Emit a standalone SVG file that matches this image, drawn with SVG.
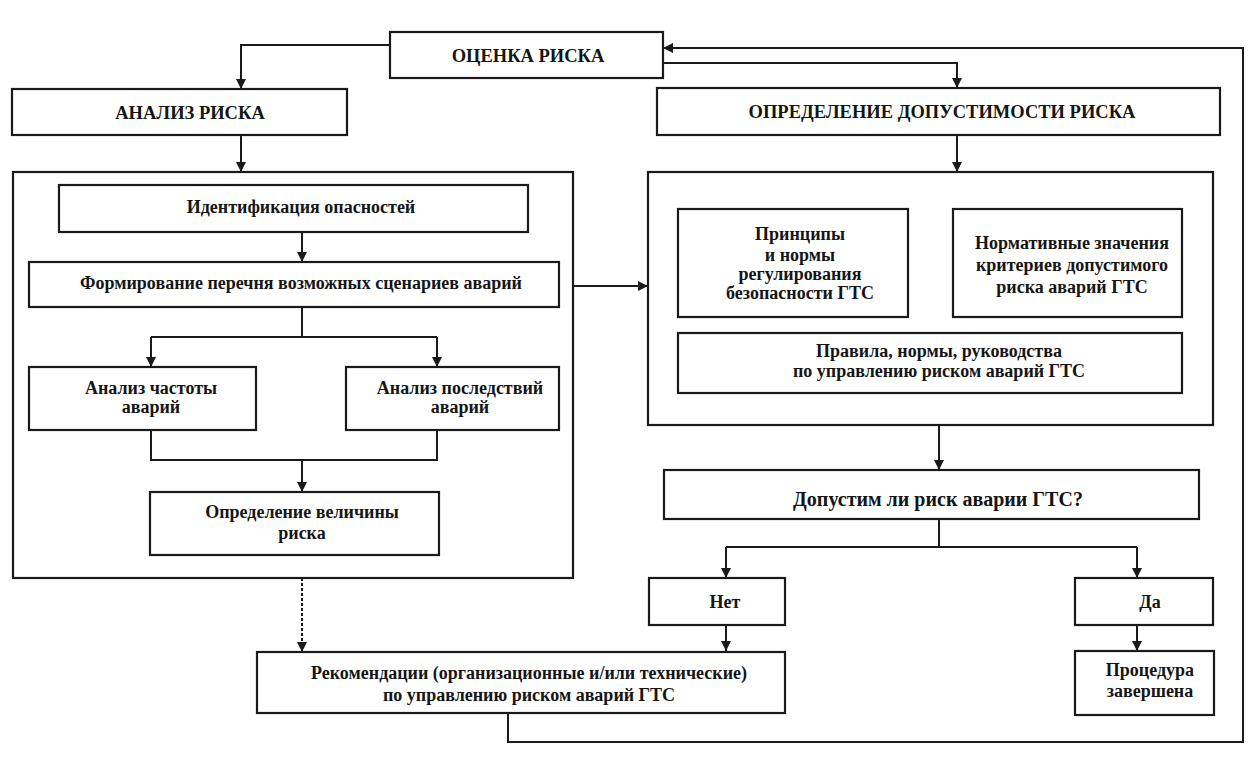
<svg xmlns="http://www.w3.org/2000/svg" width="1252" height="760" viewBox="0 0 1252 760">
<style>
.box{fill:#fff;stroke:#1a1a1a;stroke-width:2.2}
.blk{fill:none;stroke:#1a1a1a;stroke-width:2.2}
.t{font-family:"Liberation Serif","Times New Roman",serif;font-size:18px;fill:#151515;text-anchor:middle;font-weight:bold}
.h{font-family:"Liberation Serif","Times New Roman",serif;font-size:18.5px;fill:#151515;text-anchor:middle;font-weight:bold}
.c{fill:none;stroke:#1a1a1a;stroke-width:2}
.d{fill:none;stroke:#1a1a1a;stroke-width:2;stroke-dasharray:3 2}
</style>
<defs>
<marker id="ar" viewBox="0 0 10 10" refX="10" refY="5" markerWidth="5" markerHeight="5" orient="auto" markerUnits="strokeWidth">
<path d="M0,0 L10,5 L0,10 z" fill="#1a1a1a"/>
</marker>
</defs>
<rect width="1252" height="760" fill="#fff"/>

<g id="analiz-block"><rect class="blk" x="13" y="172" width="560" height="406"/></g>
<g id="dopustimost-block"><rect class="blk" x="648" y="172" width="565" height="253"/></g>

<g id="connectors">
<path class="c" d="M390,45 H241 V89" marker-end="url(#ar)"/>
<path class="c" d="M663,63 H957 V88" marker-end="url(#ar)"/>
<path class="c" d="M241,135 V172" marker-end="url(#ar)"/>
<path class="c" d="M957,135 V172" marker-end="url(#ar)"/>
<path class="c" d="M302,232 V262" marker-end="url(#ar)"/>
<path class="c" d="M302,307 V337 M151,337 H437"/>
<path class="c" d="M151,337 V367" marker-end="url(#ar)"/>
<path class="c" d="M437,337 V367" marker-end="url(#ar)"/>
<path class="c" d="M151,430 V460 H437 V430"/>
<path class="c" d="M302,460 V492" marker-end="url(#ar)"/>
<path class="c" d="M573,286 H648" marker-end="url(#ar)"/>
<path class="c" d="M939,425 V470" marker-end="url(#ar)"/>
<path class="c" d="M939,519 V547 M726,547 H1137"/>
<path class="c" d="M726,547 V578" marker-end="url(#ar)"/>
<path class="c" d="M1137,547 V578" marker-end="url(#ar)"/>
<path class="c" d="M726,625 V651" marker-end="url(#ar)"/>
<path class="c" d="M1137,625 V651" marker-end="url(#ar)"/>
<path class="d" d="M302,578 V652" marker-end="url(#ar)"/>
<path class="c" d="M508,713 V742 H1243 V48 H663" marker-end="url(#ar)"/>
</g>

<g id="ocenka"><rect class="box" x="390" y="32" width="273" height="46"/><text class="h" x="528" y="62">ОЦЕНКА РИСКА</text></g>
<g id="analiz"><rect class="box" x="12" y="89" width="335" height="46"/><text class="h" x="190" y="119">АНАЛИЗ РИСКА</text></g>
<g id="opredelenie"><rect class="box" x="657" y="88" width="563" height="47"/><text class="h" x="942" y="118">ОПРЕДЕЛЕНИЕ ДОПУСТИМОСТИ РИСКА</text></g>

<g id="identifikacia"><rect class="box" x="59" y="185" width="469" height="47"/><text class="t" x="301" y="213">Идентификация опасностей</text></g>
<g id="formirovanie"><rect class="box" x="29" y="262" width="530" height="45"/><text class="t" x="301" y="289">Формирование перечня возможных сценариев аварий</text></g>
<g id="chastota"><rect class="box" x="29" y="367" width="227" height="63"/><text class="t" x="151" y="394">Анализ частоты</text><text class="t" x="151" y="413">аварий</text></g>
<g id="posledstvia"><rect class="box" x="346" y="367" width="213" height="63"/><text class="t" x="460" y="394">Анализ последствий</text><text class="t" x="460" y="413">аварий</text></g>
<g id="velichina"><rect class="box" x="150" y="492" width="289" height="63"/><text class="t" x="302" y="518">Определение величины</text><text class="t" x="302" y="539">риска</text></g>

<g id="principy"><rect class="box" x="678" y="209" width="230" height="108"/><text class="t" x="800" y="240">Принципы</text><text class="t" x="800" y="261">и нормы</text><text class="t" x="800" y="280">регулирования</text><text class="t" x="800" y="299">безопасности ГТС</text></g>
<g id="normativy"><rect class="box" x="953" y="209" width="229" height="108"/><text class="t" x="1072" y="249">Нормативные значения</text><text class="t" x="1072" y="271">критериев допустимого</text><text class="t" x="1072" y="293">риска аварий ГТС</text></g>
<g id="pravila"><rect class="box" x="678" y="333" width="504" height="60"/><text class="t" x="939" y="357">Правила, нормы, руководства</text><text class="t" x="939" y="377">по управлению риском аварий ГТС</text></g>

<g id="vopros"><rect class="box" x="664" y="470" width="535" height="49"/><text class="t" x="938" y="506" style="font-size:20px">Допустим ли риск аварии ГТС?</text></g>
<g id="net"><rect class="box" x="649" y="578" width="136" height="47"/><text class="t" x="725" y="608">Нет</text></g>
<g id="da"><rect class="box" x="1075" y="578" width="138" height="47"/><text class="t" x="1150" y="608">Да</text></g>
<g id="rekomendacii"><rect class="box" x="257" y="652" width="528" height="61"/><text class="t" x="529" y="679">Рекомендации (организационные и/или технические)</text><text class="t" x="529" y="701">по управлению риском аварий ГТС</text></g>
<g id="procedura"><rect class="box" x="1075" y="651" width="139" height="64"/><text class="t" x="1150" y="676">Процедура</text><text class="t" x="1150" y="697">завершена</text></g>
</svg>
